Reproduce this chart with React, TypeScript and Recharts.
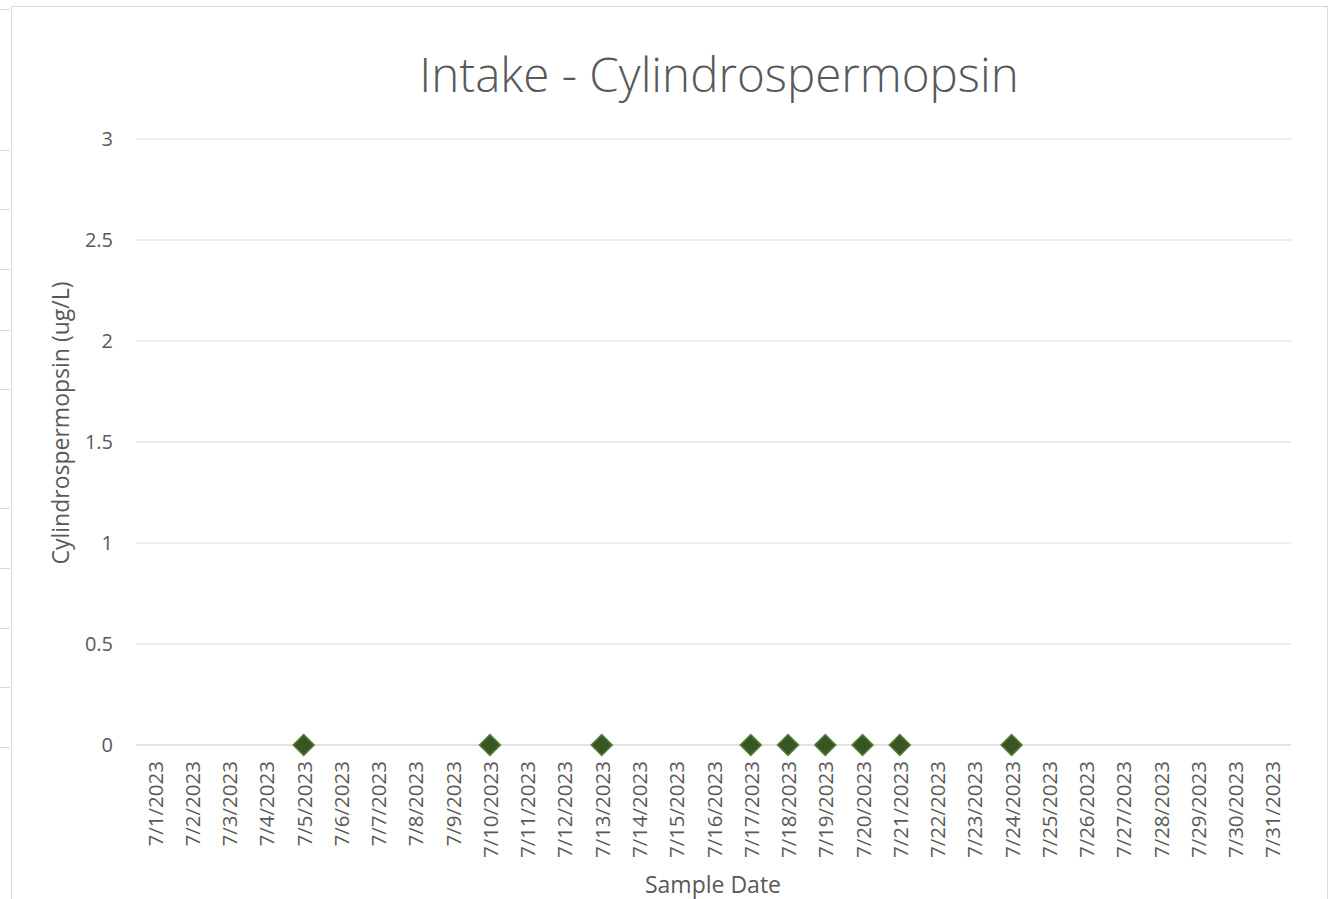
import React from 'react';
import { LineChart, Line, XAxis, YAxis, CartesianGrid, Label } from 'recharts';

// ─────────────────────────────────────────────────────────────────────────────
// Data
// ─────────────────────────────────────────────────────────────────────────────

const DATES = Array.from({ length: 31 }, (_, i) => `7/${i + 1}/2023`);

const SAMPLE_DATES = [
    '7/5/2023', '7/10/2023', '7/13/2023', '7/17/2023', '7/18/2023',
    '7/19/2023', '7/20/2023', '7/21/2023', '7/24/2023',
];
const SAMPLE_VALUES = [0, 0, 0, 0, 0, 0, 0, 0, 0];

const Y_TICKS = [0, 0.5, 1, 1.5, 2, 2.5, 3];

// spreadsheet row lines peeking out at the left edge
const ROW_LINES = [9, 150, 209, 269, 330, 389, 508, 568, 628, 687, 747];

const FONT = '"Open Sans", sans-serif';
const TEXT = '#595959';
const GRID = '#d9d9d9';

const chartData = DATES.map((d) => {
    const idx = SAMPLE_DATES.indexOf(d);
    return { date: d, value: idx >= 0 ? SAMPLE_VALUES[idx] : null };
});

// half a category slot on each side, like a bar-style date axis
const HALF_SLOT = (1339 - 136 - 48) / DATES.length / 2;

// ─────────────────────────────────────────────────────────────────────────────
// Pieces
// ─────────────────────────────────────────────────────────────────────────────

const DateTick = ({ x, y, payload }: { x?: number; y?: number; payload?: { value: string } }) => (
    <g transform={`translate(${x},${y})`}>
        <text
            transform="rotate(-90)"
            textAnchor="end"
            dominantBaseline="central"
            fill={TEXT}
            fontSize={20.5}
            fontFamily={FONT}
        >
            {payload?.value}
        </text>
    </g>
);

const Diamond = ({ cx, cy, payload }: { cx?: number; cy?: number; payload?: { value: number | null } }) => {
    if (cx == null || cy == null || payload?.value == null) return <g />;
    const r = 10.5;
    return (
        <path
            d={`M${cx},${cy - r} L${cx + r},${cy} L${cx},${cy + r} L${cx - r},${cy} Z`}
            fill="#375623"
            stroke="#548235"
            strokeWidth={1.5}
        />
    );
};

export default function App() {
    return (
        <div style={{ position: 'absolute', left: 0, top: 0, width: 1339, height: 899, background: '#fff', overflow: 'hidden' }}>
            {ROW_LINES.map((y) => (
                <div key={y} style={{ position: 'absolute', left: 0, top: y, width: 10, height: 1, background: GRID }} />
            ))}
            <div
                style={{
                    position: 'absolute', left: 11, top: 6, width: 1317, height: 920,
                    border: `1px solid ${GRID}`, boxSizing: 'border-box',
                }}
            />
            <div
                style={{
                    position: 'absolute', left: 219, width: 1000, top: 44, textAlign: 'center',
                    fontFamily: FONT, fontSize: 47.5, fontWeight: 300, color: TEXT, lineHeight: '60px',
                }}
            >
                Intake - Cylindrospermopsin
            </div>
            <div style={{ position: 'absolute', left: 0, top: 0 }}>
                <LineChart
                    width={1339}
                    height={899}
                    data={chartData}
                    margin={{ top: 139, right: 48, bottom: 0, left: 0 }}
                >
                    <CartesianGrid stroke={GRID} vertical={false} />
                    <XAxis
                        dataKey="date"
                        type="category"
                        interval={0}
                        height={154}
                        padding={{ left: HALF_SLOT, right: HALF_SLOT }}
                        axisLine={{ stroke: GRID }}
                        tickLine={false}
                        tickSize={0}
                        tickMargin={16}
                        tick={<DateTick />}
                    >
                        <Label
                            content={() => (
                                <text x={713} y={884} textAnchor="middle" dominantBaseline="central" fill={TEXT} fontSize={23} fontFamily={FONT}>
                                    Sample Date
                                </text>
                            )}
                        />
                    </XAxis>
                    <YAxis
                        type="number"
                        domain={[0, 3]}
                        ticks={Y_TICKS}
                        width={136}
                        axisLine={false}
                        tickLine={false}
                        tickSize={0}
                        tickMargin={23}
                        tick={{ fill: TEXT, fontSize: 20, fontFamily: FONT }}
                    >
                        <Label
                            content={() => (
                                <text
                                    transform="translate(60,423) rotate(-90)"
                                    textAnchor="middle"
                                    dominantBaseline="central"
                                    fill={TEXT}
                                    fontSize={23}
                                    fontFamily={FONT}
                                >
                                    Cylindrospermopsin (ug/L)
                                </text>
                            )}
                        />
                    </YAxis>
                    <Line
                        dataKey="value"
                        stroke="none"
                        dot={<Diamond />}
                        activeDot={false}
                        isAnimationActive={false}
                    />
                </LineChart>
            </div>
        </div>
    );
}
